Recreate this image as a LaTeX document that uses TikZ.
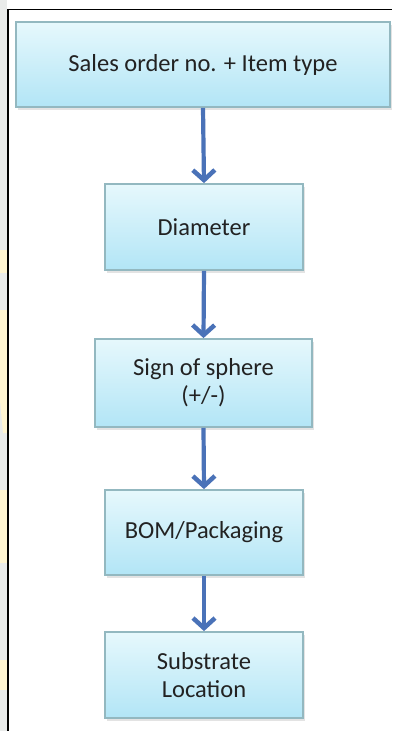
\documentclass[tikz,border=0pt]{standalone}
\usepackage{fontspec}
\setmainfont{Carlito}
\usetikzlibrary{arrows.meta,shadows}
\definecolor{boxtop}{HTML}{E6F8FC}
\definecolor{boxbot}{HTML}{B2E5F6}
\definecolor{boxline}{HTML}{93B8C0}
\definecolor{flow}{HTML}{4A72B8}
\definecolor{txt}{HTML}{222222}
\definecolor{strip}{HTML}{E9EBEA}
\definecolor{patch}{HTML}{FFF5D2}
\tikzset{
  stepbox/.style={draw=boxline, line width=1.8pt, rectangle,
    top color=boxtop, bottom color=boxbot, text=txt,
    font=\fontsize{24.5}{28}\selectfont, align=center, inner sep=0pt,
    drop shadow={opacity=0.22, shadow xshift=1.5pt, shadow yshift=-2.5pt}},
  flowarrow/.style={draw=flow, line width=4.2pt,
    -{Straight Barb[length=10pt, width=22pt, line width=4.5pt]}},
}
\begin{document}
\begin{tikzpicture}[x=1pt, y=-1pt]
  \useasboundingbox (0,0) rectangle (392,731);
  \fill[white] (0,0) rectangle (392,731);
  % margin strip at the left edge
  \fill[strip] (0,0) rectangle (7,731);
  \fill[patch] (0,250) rectangle (7,273);
  \fill[patch] (0,310) -- (7,310) -- (7,433) -- (3,433) -- (0,400) -- cycle;
  \fill[patch] (0,490) rectangle (7,563);
  \fill[patch] (0,660) rectangle (7,690);
  % frame
  \draw[black, line width=1.6pt] (8,731) -- (8,9.5) -- (392,9.5);

  % process steps
  \node[stepbox, minimum width=374pt, minimum height=85pt] (order) at (203,64.5)
    {Sales order no. + Item type};
  \node[stepbox, minimum width=198pt, minimum height=86pt] (diam) at (204,227)
    {Diameter};
  \node[stepbox, minimum width=217pt, minimum height=88pt] (sign) at (203.5,383)
    {Sign of sphere\\(+/-)};
  \node[stepbox, minimum width=198pt, minimum height=85pt] (bom) at (204,532.5)
    {BOM/Packaging};
  \node[stepbox, minimum width=198pt, minimum height=86pt] (subst) at (204,675)
    {Substrate\\Location};

  % connectors
  \draw[flowarrow] (order.south) -- (diam.north);
  \draw[flowarrow] (diam.south) -- (sign.north);
  \draw[flowarrow] (sign.south) -- (bom.north);
  \draw[flowarrow] (bom.south) -- (subst.north);
\end{tikzpicture}
\end{document}
